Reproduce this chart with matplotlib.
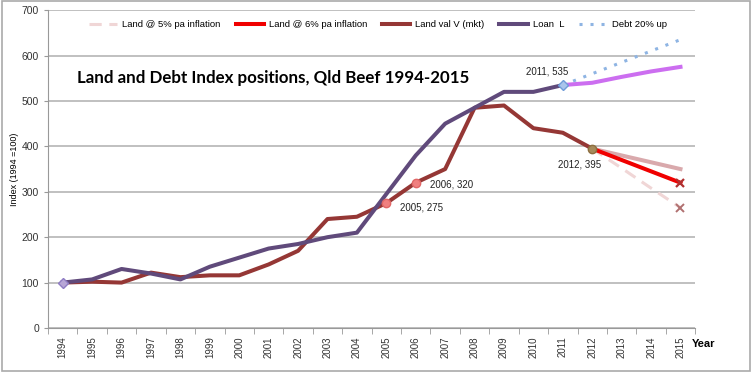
import numpy as np
import matplotlib.pyplot as plt
from matplotlib.patches import Rectangle

years = [str(y) for y in range(1994, 2016)]

# index values (1994 = 100)
land_val = [100, 102, 100, 122, 112, 116, 116, 140, 170, 240, 245,
            275, 320, 350, 485, 490, 440, 430, 395]
loan = [100, 107, 130, 120, 107, 135, 155, 175, 185, 200, 210,
        295, 380, 450, 485, 520, 520, 535]
loan_proj = [535, 540, 553, 565, 575]            # 2011-2015
debt_up = [535, 560, 585, 610, 635]              # 2011-2015
land_6pc = [395, 370, 345, 320]                  # 2012-2015
land_5pc = [395, 352, 308, 265]                  # 2012-2015
land_trend = [395, 380, 365, 350]                # 2012-2015

x = np.arange(len(years))
fam = ['Liberation Sans', 'DejaVu Sans']

fig = plt.figure(figsize=(7.54, 3.75), dpi=100)
ax = fig.add_axes([0.0637, 0.1253, 0.8583, 0.8477])

lw = 2.9
ax.plot(x[18:], land_5pc, color='#F0D6D6', lw=2.2, linestyle=(0, (4, 2.5)),
        label='Land @ 5% pa inflation', zorder=3)
ax.plot(x[18:], land_trend, color='#D9A9AC', lw=lw, zorder=3)
ax.plot(x[18:], land_6pc, color='#F00000', lw=lw, label='Land @ 6% pa inflation', zorder=4)
ax.plot(x[:19], land_val, color='#953735', lw=lw, label='Land val V (mkt)', zorder=5)
ax.plot(x[:18], loan, color='#604A7B', lw=lw, label='Loan  L', zorder=6)
ax.plot(x[17:], loan_proj, color='#CC6EF0', lw=lw, zorder=5)
ax.plot(x[17:], debt_up, color='#8EB4E3', lw=2.2, linestyle=(0, (1, 2.6)),
        label='Debt 20% up', zorder=4)

# markers
ax.plot(x[0], loan[0], marker='D', ms=5, color='#B7A6D6', mec='#8E7CC3', zorder=7)
ax.plot(x[17], loan[17], marker='D', ms=5, color='#A9C4EB', mec='#6F9BD8', zorder=7)
ax.plot(x[[11, 12]], [land_val[11], land_val[12]], 'o', ms=6,
        color='#F08080', mec='#E06666', zorder=7)
ax.plot(x[18], land_val[18], 'o', ms=6, color='#A68A5B', mec='#8C6E3F', zorder=7)
ax.plot(x[21], land_6pc[-1], 'x', ms=6, mew=1.6, color='#B03030', zorder=7)
ax.plot(x[21], land_5pc[-1], 'x', ms=6, mew=1.4, color='#B07070', zorder=7)

lab_kw = dict(fontsize=7, color='#222222', family=fam)
ax.annotate('2011, 535', (x[17], 535), xytext=(-11, 6), textcoords='offset points',
            ha='center', va='bottom', **lab_kw)
ax.annotate('2012, 395', (x[18], 395), xytext=(-9, -8), textcoords='offset points',
            ha='center', va='top', **lab_kw)
ax.annotate('2005, 275', (x[11], 275), xytext=(10, -3), textcoords='offset points',
            ha='left', va='center', **lab_kw)
ax.annotate('2006, 320', (x[12], 320), xytext=(10, -1), textcoords='offset points',
            ha='left', va='center', **lab_kw)

ax.text(0.5, 550, 'Land and Debt Index positions, Qld Beef 1994-2015',
        fontsize=12.2, fontweight='bold', family=['Lato', 'DejaVu Sans'], va='center')

# axes formatting
ax.set_xlim(-0.5, len(years) - 0.5)
ax.set_ylim(0, 700)
ax.set_yticks(range(0, 701, 100))
ax.set_xticks(x)
ax.set_xticklabels(years, rotation=90, fontsize=7, color='#333333', family=fam)
ax.set_xticks(np.arange(-0.5, len(years), 1), minor=True)
ax.tick_params(axis='x', which='major', length=0, pad=6)
ax.tick_params(axis='x', which='minor', length=4, color='#999999', direction='out')
ax.tick_params(axis='y', length=3, color='#999999', labelsize=7.5, labelcolor='#333333')
for t in ax.get_yticklabels():
    t.set_family(fam)
ax.grid(axis='y', color='#BBBBBB', lw=1.3)
ax.set_axisbelow(True)
for s in ['top', 'right']:
    ax.spines[s].set_visible(False)
for s in ['left', 'bottom']:
    ax.spines[s].set_color('#999999')
ax.set_ylabel('Index (1994 =100)', fontsize=6.5, labelpad=2, family=fam)
fig.text(0.918, 0.075, 'Year', fontsize=8, fontweight='bold', family=fam)

ax.legend(loc='upper center', bbox_to_anchor=(0.51, 0.995), ncol=5, frameon=False,
          handlelength=3.0, columnspacing=1.6, handletextpad=0.5,
          prop={'family': fam, 'size': 6.8})

fig.patches.append(Rectangle((0.003, 0.012), 0.992, 0.985, transform=fig.transFigure,
                             fill=False, edgecolor='#AAAAAA', lw=1.2))

fig.savefig('out.png', dpi=100)
